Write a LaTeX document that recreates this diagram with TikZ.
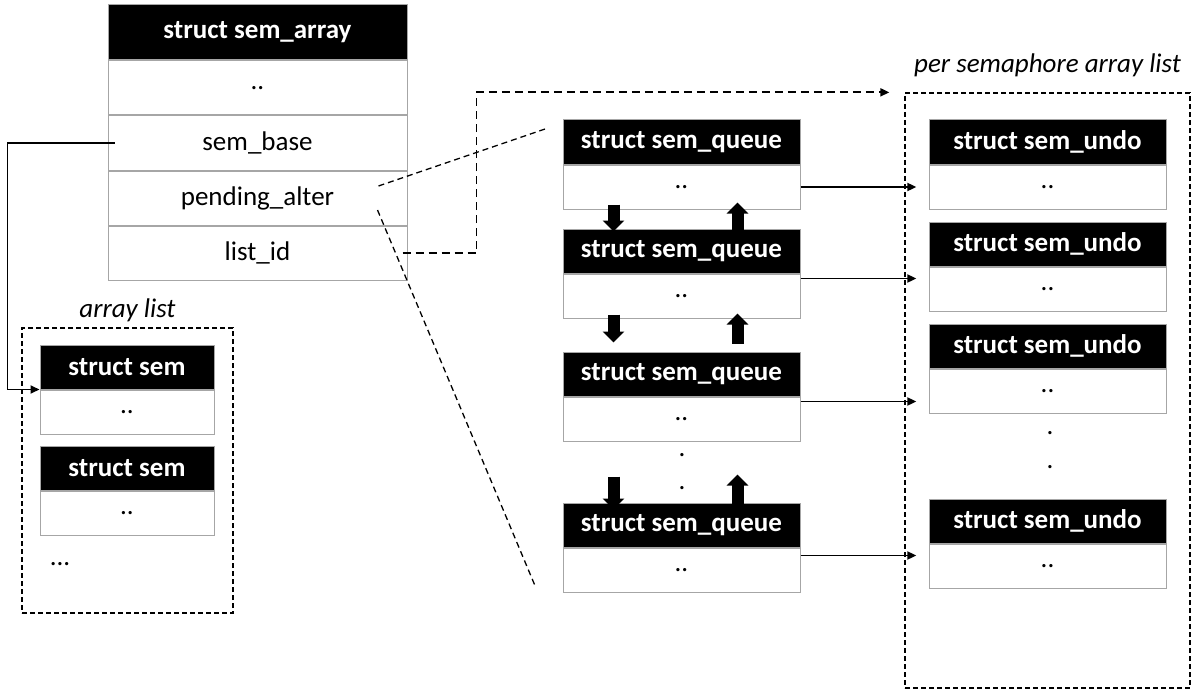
\documentclass[tikz,border=0pt]{standalone}
\usepackage{fontspec}
\setmainfont{Carlito}
\usepackage{tikz}
\usetikzlibrary{positioning,arrows.meta,calc}
\newcommand{\hfnt}{\fontsize{27}{31}\selectfont\bfseries}
\newcommand{\bfnt}{\fontsize{27}{31}\selectfont}
\tikzset{
  hd/.style={draw=gray!70, line width=1pt, fill=black, text=white, font=\hfnt,
             inner sep=0pt, minimum height=44pt},
  fld/.style={draw=gray!70, line width=1pt, fill=white, font=\bfnt,
              inner sep=0pt, minimum height=44pt},
  grp/.style={draw, line width=1.3pt, dash pattern=on 5pt off 3pt},
  lbl/.style={font=\bfnt\itshape, inner sep=0pt},
  link/.style={-{Triangle[length=9pt,width=8pt]}, line width=1.8pt},
  dlink/.style={link, dash pattern=on 8pt off 5pt},
  zoomln/.style={line width=1.3pt, dash pattern=on 6pt off 4pt},
  blkar/.style={line width=12pt, -{Triangle[length=11pt,width=21pt]}}
}

\begin{document}
\begin{tikzpicture}[x=1pt, y=1pt]
\useasboundingbox (0,0) rectangle (1193,-698);
% struct sem_array
\node[hd, minimum height=55pt, minimum width=299pt] (arr) at (257.5,-32.5) {struct sem\_array};
\node[fld, minimum height=54pt, minimum width=299pt, below=0pt of arr] (arrdots) {..};
\node[fld, minimum height=54pt, minimum width=299pt, below=0pt of arrdots] (base) {sem\_base};
\node[fld, minimum height=54pt, minimum width=299pt, below=0pt of base] (pend) {pending\_alter};
\node[fld, minimum height=54pt, minimum width=299pt, below=0pt of pend] (lid) {list\_id};
% array list
\node[grp, minimum width=211pt, minimum height=285pt] (alist) at (127.5,-470.5) {};
\node[lbl, above=5pt of alist] (alistlbl) {array list};
\node[hd, minimum width=174pt] (s1h) at (127,-367) {struct sem};
\node[fld, minimum width=174pt, below=0pt of s1h] (s1b) {..};
\node[hd, minimum width=174pt, below=11pt of s1b] (s2h) {struct sem};
\node[fld, minimum width=174pt, below=0pt of s2h] (s2b) {..};
\node[font=\bfnt, inner sep=0pt] (smore) at (60,-564) {...};
% sem_queue list
\node[hd, minimum width=237pt] (q1h) at (681.5,-142) {struct sem\_queue};
\node[fld, minimum width=237pt, below=0pt of q1h] (q1b) {..};
\node[hd, minimum width=237pt, below=19pt of q1b] (q2h) {struct sem\_queue};
\node[fld, minimum width=237pt, below=0pt of q2h] (q2b) {..};
\node[hd, minimum width=237pt, below=33pt of q2b] (q3h) {struct sem\_queue};
\node[fld, minimum width=237pt, below=0pt of q3h] (q3b) {..};
\node[hd, minimum width=237pt, below=61pt of q3b] (q4h) {struct sem\_queue};
\node[fld, minimum width=237pt, below=0pt of q4h] (q4b) {..};
\node[font=\bfnt, inner sep=0pt] (qdot1) at (682,-455) {.};
\node[font=\bfnt, inner sep=0pt] (qdot2) at (682,-488) {.};
% per semaphore array list
\node[grp, minimum width=285pt, minimum height=595pt] (plist) at (1047.5,-390.5) {};
\node[lbl, above=15pt of plist] (plistlbl) {per semaphore array list};
\node[hd, minimum width=237pt] (u1h) at (1047.5,-142) {struct sem\_undo};
\node[fld, minimum width=237pt, below=0pt of u1h] (u1b) {..};
\node[hd, minimum width=237pt, below=12pt of u1b] (u2h) {struct sem\_undo};
\node[fld, minimum width=237pt, below=0pt of u2h] (u2b) {..};
\node[hd, minimum width=237pt, below=12pt of u2b] (u3h) {struct sem\_undo};
\node[fld, minimum width=237pt, below=0pt of u3h] (u3b) {..};
\node[hd, minimum width=237pt, below=85pt of u3b] (u4h) {struct sem\_undo};
\node[fld, minimum width=237pt, below=0pt of u4h] (u4b) {..};
\node[font=\bfnt, inner sep=0pt] (udot1) at (1050,-433) {.};
\node[font=\bfnt, inner sep=0pt] (udot2) at (1050,-467) {.};
% links
\draw[link] ([xshift=7pt]base.west) -- ++(-107pt,0) |- (s1h.south west);
\draw[dlink] ([xshift=-5pt]lid.east) -- ++(74pt,0) |- ([xshift=-15pt]plist.north west);
\draw[zoomln] ([xshift=-29pt,yshift=12pt]pend.east) -- ([xshift=-16pt,yshift=-9pt]q1h.north west);
\draw[zoomln] ([xshift=-30pt,yshift=-12pt]pend.east) -- ([xshift=-28pt,yshift=8pt]q4b.south west);
\draw[link] (q1b.east) -- ([xshift=12pt]q1b.east -| plist.west);
\draw[link] ([yshift=-5pt]q2b.north east) -- ([xshift=12pt,yshift=-5pt]q2b.north east -| plist.west);
\draw[link] ([yshift=-5pt]q3b.north east) -- ([xshift=12pt,yshift=-5pt]q3b.north east -| plist.west);
\draw[link] ([yshift=-8pt]q4b.north east) -- ([xshift=12pt,yshift=-8pt]q4b.north east -| plist.west);
% next / prev
\draw[blkar] ([xshift=51pt,yshift=5pt]q1b.south west) -- ([xshift=51pt,yshift=-3pt]q2h.north west);
\draw[blkar] ([xshift=-63pt,yshift=-3pt]q2h.north east) -- ([xshift=-63pt,yshift=7pt]q1b.south east);
\draw[blkar] ([xshift=51pt,yshift=4pt]q2b.south west) -- ([xshift=51pt,yshift=9pt]q3h.north west);
\draw[blkar] ([xshift=-63pt,yshift=8pt]q3h.north east) -- ([xshift=-63pt,yshift=5pt]q2b.south east);
\draw[blkar] ([xshift=51pt,yshift=26pt]q4h.north west) -- ([xshift=51pt,yshift=-7pt]q4h.north west);
\draw[blkar] ([xshift=-63pt,yshift=-3pt]q4h.north east) -- ([xshift=-63pt,yshift=28pt]q4h.north east);
\end{tikzpicture}
\end{document}
